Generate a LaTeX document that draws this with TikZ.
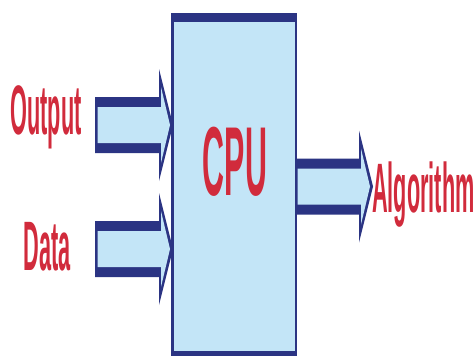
\documentclass[tikz,border=0pt]{standalone}
\usepackage{fontspec}
\setmainfont{Liberation Sans}
\usepackage{graphicx}
\definecolor{navy}{HTML}{2B3483}
\definecolor{skyfill}{HTML}{C3E5F7}
\definecolor{labelred}{HTML}{D12B3C}
\newcommand{\narrowtxt}[1]{\scalebox{0.31}[1]{#1}}
\newcommand{\blockarr}[4]{%
  \path[outerfill] (#1,#4-28) -- (#2,#4-28) -- (#2,#4-56) -- (#3,#4)
    -- (#2,#4+56) -- (#2,#4+28) -- (#1,#4+28) -- cycle;
  \path[innerfill] (#1+2.5,#4-18) -- (#2+2,#4-18) -- (#2+2,#4-38) -- (#3-3,#4)
    -- (#2+2,#4+38) -- (#2+2,#4+18) -- (#1+2.5,#4+18) -- cycle;}
\begin{document}
\begin{tikzpicture}[x=1pt,y=-1pt,
  outerfill/.style={fill=navy},
  innerfill/.style={fill=skyfill},
  lbl/.style={text=labelred, inner sep=0pt, anchor=base,
    font=\fontsize{70}{70}\selectfont\bfseries},
  cpulbl/.style={text=labelred, inner sep=0pt, anchor=base,
    font=\fontsize{98}{98}\selectfont\bfseries}]
\useasboundingbox (0,0) rectangle (474,356);
% CPU box
\path[outerfill] (171,13) rectangle (297,362);
\path[innerfill] (173.5,22) rectangle (294.5,351);
% block arrows
\blockarr{95}{159}{173}{125}
\blockarr{95}{159}{173}{249}
\blockarr{295}{359}{373}{186.5}
% labels
\node[cpulbl] (cpu) at (235,195) {\narrowtxt{CPU}};
\node[lbl] (output) at (46,134) {\narrowtxt{Output}};
\node[lbl] (data) at (47,270) {\narrowtxt{Data}};
\node[lbl, anchor=base west] (algo) at (372,212) {\narrowtxt{Algorithm}};
\end{tikzpicture}
\end{document}
